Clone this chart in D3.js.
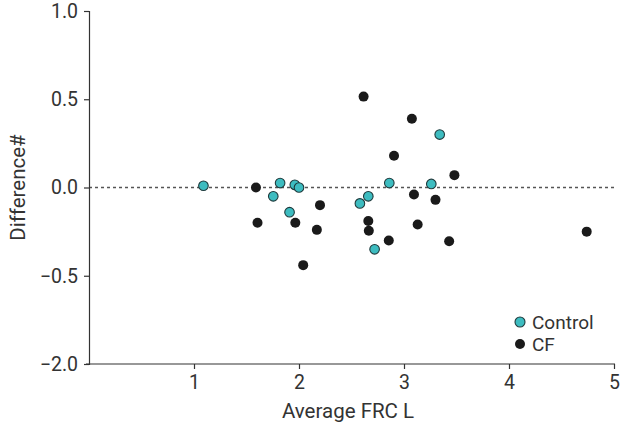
<!DOCTYPE html>
<html><head><meta charset="utf-8">
<script src="https://cdn.jsdelivr.net/npm/d3@7"></script>
<style>body{margin:0;background:#fff}svg{display:block}text{font-family:Roboto,"Noto Sans",sans-serif;fill:#333}</style>
</head><body><svg id="c" width="626" height="424"></svg>
<script>
const controlX = [1.09,1.82,1.755,1.96,2.0,1.91,3.34,2.86,3.26,2.66,2.58,2.72];
const controlY = [0.01,0.025,-0.05,0.015,0.0,-0.14,0.30,0.025,0.02,-0.05,-0.09,-0.35];
const cfX = [1.59,1.605,1.965,2.2,2.17,2.04,2.615,3.075,2.905,3.48,3.095,3.30,2.66,2.665,3.13,2.855,3.43,4.74];
const cfY = [0.0,-0.20,-0.20,-0.10,-0.24,-0.44,0.515,0.39,0.18,0.07,-0.04,-0.07,-0.19,-0.245,-0.21,-0.30,-0.305,-0.25];
const xTicks = [1,2,3,4,5];
const yTickPos = [1.0,0.5,0.0,-0.5,-1.0];
const yTickLabels = ["1.0","0.5","0.0","\u22120.5","\u22122.0"];
const seriesNames = ["Control","CF"];

const svg = d3.select("#c");
const x = d3.scaleLinear().domain([0,5]).range([89,614]);
const y = d3.scaleLinear().domain([-1,1]).range([364,11]);
const axisColor = "#333";

// zero line
svg.append("line").attr("x1",x(0)).attr("x2",x(5)+2).attr("y1",y(0)).attr("y2",y(0))
  .attr("stroke","#555").attr("stroke-width",1.3).attr("stroke-dasharray","3,3");

const xa = svg.append("g").attr("transform",`translate(0,${y(-1)})`)
  .call(d3.axisBottom(x).tickValues(xTicks).tickSize(5).tickPadding(6).tickFormat(d3.format("d")));
xa.select(".domain").attr("d",`M${x(0)-3},0H${x(5)+1}`);
const ya = svg.append("g").attr("transform",`translate(${x(0)},0)`)
  .call(d3.axisLeft(y).tickValues(yTickPos).tickSize(5).tickPadding(6).tickFormat((d,i)=>yTickLabels[i]));
[xa,ya].forEach(g=>{
  g.selectAll("path,line").attr("stroke",axisColor).attr("stroke-width",1.2);
  g.selectAll("text").attr("font-size",19.5).attr("fill","#333").attr("font-family","Roboto,sans-serif");
});

svg.append("text").attr("x",348).attr("y",418).attr("text-anchor","middle").attr("font-size",20.5).text("Average FRC L");
svg.append("text").attr("transform",`translate(25,${y(0)}) rotate(-90)`).attr("text-anchor","middle").attr("font-size",20.5).text("Difference#");

const colors = {Control:"#3dbcc0", CF:"#1a1a1a"};
svg.append("g").selectAll("circle").data(cfX.map((v,i)=>[v,cfY[i]])).join("circle")
  .attr("cx",d=>x(d[0])).attr("cy",d=>y(d[1])).attr("r",5).attr("fill",colors.CF);
svg.append("g").selectAll("circle").data(controlX.map((v,i)=>[v,controlY[i]])).join("circle")
  .attr("cx",d=>x(d[0])).attr("cy",d=>y(d[1])).attr("r",4.8).attr("fill",colors.Control)
  .attr("stroke","#1f3a3c").attr("stroke-width",1.1);

const lg = svg.append("g");
seriesNames.forEach((n,i)=>{
  const cy = 322 + i*22;
  lg.append("circle").attr("cx",520).attr("cy",cy).attr("r",5).attr("fill",colors[n])
    .attr("stroke",n==="Control"?"#1f3a3c":"none").attr("stroke-width",1.1);
  lg.append("text").attr("x",532).attr("y",cy+7).attr("font-size",19).text(n);
});
</script></body></html>
